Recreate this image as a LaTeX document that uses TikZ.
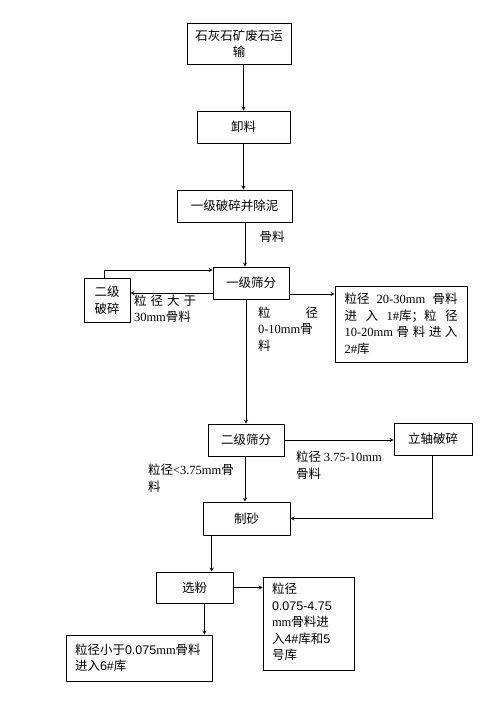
\documentclass[tikz,border=0pt]{standalone}
\usepackage{fontspec}
\setmainfont{Noto Sans CJK SC}
\newfontfamily\lat{Liberation Serif}
\newfontfamily\sa{Liberation Sans}
\begin{document}
\begin{tikzpicture}[x=1pt,y=-1pt,>=stealth,line join=round,line width=0.8pt,
	font=\fontsize{12.5}{16.5}\selectfont,
	box/.style={draw,inner sep=0pt,align=center},
	txt/.style={inner sep=0pt,align=left}]
					\useasboundingbox (0,0) rectangle (479,706);
					\node[box,minimum width=104,minimum height=41] (ysys) at (239,43.5) {石灰石矿废石运\\输};
					\node[box,minimum width=93,minimum height=32] (xl) at (243.5,127) {卸料};
					\node[box,minimum width=115,minimum height=32] (yjps) at (234.5,206) {一级破碎并除泥};
					\node[box,minimum width=76,minimum height=32] (yjsf) at (251,283) {一级筛分};
					\node[box,minimum width=46,minimum height=44] (ejps) at (107,300) {二级\\破碎};
					\node[box,minimum width=132,minimum height=76] (ku12) at (401,324) {};
					\node[txt,text width=113] at (ku12) {粒径\hfill{\lat 20-30mm}\hfill 骨料\\进\hfill 入\hfill{\lat 1\#}库；粒\hfill 径\\{\lat 10-20mm}\hfill 骨\hfill 料\hfill 进\hfill 入\\{\lat 2\#}库};
					\node[box,minimum width=76,minimum height=32] (ejsf) at (246,440) {二级筛分};
					\node[box,minimum width=78,minimum height=32] (lzps) at (433,439) {立轴破碎};
					\node[box,minimum width=87,minimum height=33] (zs) at (246.5,518.5) {制砂};
					\node[box,minimum width=77,minimum height=31] (xf) at (194.5,587.5) {选粉};
					\node[box,minimum width=91,minimum height=93] (ku45) at (308.5,623.5) {};
					\node[txt,anchor=north west] at ([shift={(9pt,-6pt)}]ku45.north west) {粒径\\{\sa 0.075-4.75}\\{\lat mm}骨料进\\入{\sa 4\#}库和{\sa 5}\\号库};
					\node[box,minimum width=146,minimum height=46] (ku6) at (139,658) {};
					\node[txt,anchor=west] at ([xshift=9pt]ku6.west) {粒径小于{\sa 0.075}{\lat mm}骨料\\进入{\sa 6\#}库};
					\node[txt] (gl) at (272,237) {骨料};
					\node[txt,text width=62] (gl30) at (165,308.5) {粒\hfill 径\hfill 大\hfill 于\\{\lat 30mm}骨料};
					\node[txt,text width=60] (gl10) at (288,329) {粒\hfill 径\\{\lat 0-10mm}骨\\料};
					\node[txt] (gl375) at (191,478) {粒径{\lat <3.75mm}骨\\料};
					\node[txt] (gl310) at (339,465) {粒径 {\lat 3.75-10mm}\\骨料};
					\draw[->] (xl.north |- ysys.south) -- (xl.north);
					\draw[->] (xl.south) -- (xl.south |- yjps.north);
					\draw[->] ([xshift=10.5pt]yjps.south) -- ([xshift=10.5pt]yjps.south |- yjsf.north);
					\draw[->] ([xshift=-3pt]ejps.north) |- ([yshift=13pt]yjsf.west);
					\draw[->] ([yshift=-10pt]yjsf.west) -- ([yshift=-10pt]yjsf.west -| ejps.east);
					\draw[->] ([yshift=-11pt]yjsf.east) -- ([yshift=-11pt]yjsf.east -| ku12.west);
					\draw[->] (ejsf.north |- yjsf.south) -- (ejsf.north);
					\draw[->] (ejsf.east) -- (ejsf.east -| lzps.west);
					\draw[->] ([xshift=-1pt]ejsf.south) -- ([xshift=-1pt]ejsf.south |- zs.north);
					\draw[->] ([xshift=-1pt]lzps.south) |- (zs.east);
					\draw[->] ([xshift=9pt]zs.south west) -- ([xshift=9pt]zs.south west |- xf.north);
					\draw[->] (xf.east) -- (xf.east -| ku45.west);
					\draw[->] ([xshift=10pt]xf.south) -- ([xshift=10pt]xf.south |- ku6.north);
				\end{tikzpicture}
\end{document}
